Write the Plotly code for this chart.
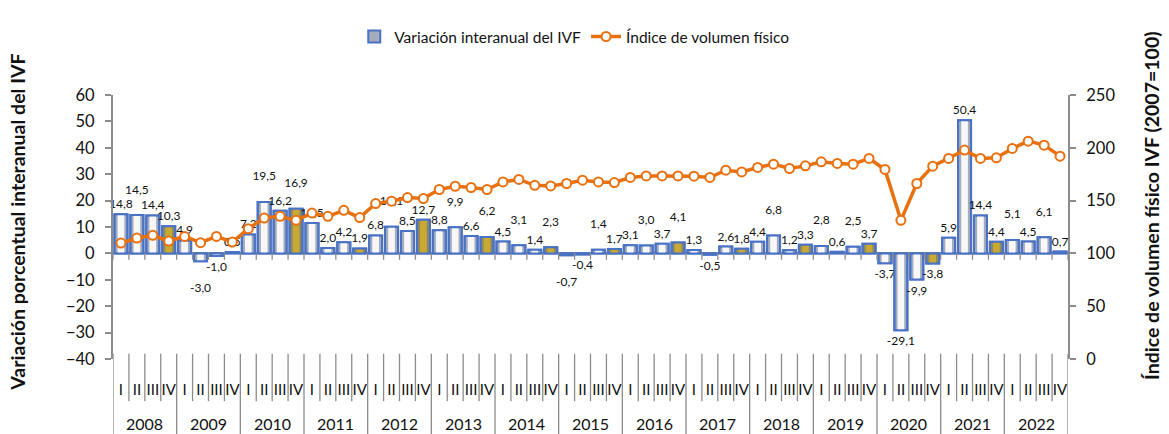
import plotly.graph_objects as go

years = [str(y) for y in range(2008, 2023)]
quarters = ["I", "II", "III", "IV"]

# Variación interanual del IVF (%), trimestral 2008-2022
ivf_var = [14.8, 14.5, 14.4, 10.3,
           4.9, -3.0, -1.0, 0.5,
           7.2, 19.5, 16.2, 16.9,
           11.5, 2.0, 4.2, 1.9,
           6.8, 10.1, 8.5, 12.7,
           8.8, 9.9, 6.6, 6.2,
           4.5, 3.1, 1.4, 2.3,
           -0.7, -0.4, 1.4, 1.7,
           3.1, 3.0, 3.7, 4.1,
           1.3, -0.5, 2.6, 1.8,
           4.4, 6.8, 1.2, 3.3,
           2.8, 0.6, 2.5, 3.7,
           -3.7, -29.1, -9.9, -3.8,
           5.9, 50.4, 14.4, 4.4,
           5.1, 4.5, 6.1, 0.7]

# Índice de volumen físico (2007=100)
ivf_index = [109.8, 114.5, 117.1, 111.7,
             116.1, 110.1, 116.1, 110.7,
             123.4, 133.5, 135.1, 131.3,
             138.2, 135.1, 140.8, 133.9,
             147.2, 149.4, 152.9, 151.9,
             160.5, 163.6, 162.4, 160.5,
             167.7, 170.0, 164.5, 163.9,
             166.2, 169.3, 167.7, 167.1,
             171.9, 173.4, 173.4, 173.4,
             173.1, 171.9, 178.8, 177.2,
             181.4, 184.5, 180.4, 182.9,
             186.7, 185.2, 184.5, 189.9,
             179.5, 131.3, 166.2, 182.6,
             189.9, 197.8, 189.9, 190.5,
             199.4, 206.3, 202.5, 192.1]

x_year = [y for y in years for _ in quarters]
x_q = [q for _ in years for q in quarters]
xkeys = [f"{y} {q}" for y, q in zip(x_year, x_q)]
n = len(ivf_var)

# label placement style: these data labels sit one line further from the bar
shifted_labels = {("2008", "II"), ("2010", "II"), ("2010", "IV"), ("2012", "II"),
                  ("2013", "II"), ("2013", "IV"), ("2014", "II"), ("2014", "IV"),
                  ("2015", "III"), ("2016", "II"), ("2016", "IV"), ("2018", "II"),
                  ("2019", "I"), ("2019", "III"), ("2022", "I"), ("2022", "III"),
                  ("2009", "II"), ("2015", "I")}

def fmt(v):
    return f"{v:.1f}".replace(".", ",")

labels = []
for v, y, q in zip(ivf_var, x_year, x_q):
    t = fmt(v)
    if (y, q) in shifted_labels:
        t = t + "<br> " if v >= 0 else " <br>" + t
    labels.append(t)

FONT = "Lato"
BLUE = "#4a72c4"
ORANGE = "#e8700f"
GRAY = "#8c8c8c"

outer_fill = ["#a3abbd" if q != "IV" else "#8f8a5c" for q in x_q]
inner_fill = ["#f7f7f7" if q != "IV" else "#c9a935" for q in x_q]

fig = go.Figure()
fig.add_trace(go.Bar(
    x=xkeys, y=ivf_var, width=0.82,
    marker=dict(color=outer_fill, line=dict(color=BLUE, width=2)),
    name="Variación interanual del IVF", showlegend=True, hoverinfo="skip",
))
fig.add_trace(go.Bar(
    x=xkeys, y=ivf_var, width=0.42,
    marker=dict(color=inner_fill, line=dict(width=0)),
    showlegend=False, hoverinfo="skip",
))
fig.add_trace(go.Bar(
    x=xkeys, y=ivf_var, width=0.82,
    marker=dict(color="rgba(0,0,0,0)", line=dict(color=BLUE, width=2)),
    text=labels, textposition="outside", cliponaxis=False, constraintext="none",
    textfont=dict(family=FONT, size=12, color="#111"),
    showlegend=False,
))
fig.add_trace(go.Scatter(
    x=xkeys, y=ivf_index, yaxis="y2", mode="lines+markers",
    line=dict(color=ORANGE, width=3.5),
    marker=dict(symbol="circle", size=9, color="white",
                line=dict(color=ORANGE, width=2)),
    name="Índice de volumen físico",
))

# axis decorations: separators below the plot and ticks on the zero line
shapes = []
for k in range(n + 1):
    pos = k - 0.5
    is_year = (k % 4 == 0)
    shapes.append(dict(type="line", xref="x", yref="paper", x0=pos, x1=pos,
                       y0=0.02, y1=(-0.29 if is_year else -0.16),
                       line=dict(color=GRAY, width=1.3)))
    shapes.append(dict(type="line", xref="x", yref="y", x0=pos, x1=pos,
                       y0=0, y1=-2.4, line=dict(color=GRAY, width=1.3)))

annotations = [
    dict(text=yr, xref="x", yref="paper", x=4 * i + 1.5, y=-0.245,
         xanchor="center", yanchor="middle", showarrow=False,
         font=dict(family=FONT, size=16, color="#111"))
    for i, yr in enumerate(years)
]
annotations += [
    dict(text="<b>Variación porcentual interanual del IVF</b>", textangle=-90,
         xref="paper", yref="paper", x=-0.0995, y=0.52, xanchor="center", yanchor="middle",
         showarrow=False, font=dict(family=FONT, size=19.5, color="#111")),
    dict(text="<b>Índice de volumen físico IVF (2007=100)</b>", textangle=-90,
         xref="paper", yref="paper", x=1.088, y=0.58, xanchor="center", yanchor="middle",
         showarrow=False, font=dict(family=FONT, size=19.5, color="#111")),
]

fig.update_layout(
    width=1169, height=434,
    margin=dict(l=113, r=101, t=95, b=75, autoexpand=False),
    paper_bgcolor="white", plot_bgcolor="white",
    barmode="overlay",
    font=dict(family=FONT, color="#222"),
    showlegend=True,
    legend=dict(orientation="h", x=0.483, xanchor="center", y=1.22, yanchor="middle",
                font=dict(family=FONT, size=15.5, color="#111"),
                traceorder="normal"),
    shapes=shapes,
    annotations=annotations,
    xaxis=dict(
        type="category", range=[-0.5, n - 0.5], automargin=False,
        tickvals=xkeys, ticktext=x_q, tickangle=0,
        showgrid=False, showline=False, ticks="", zeroline=False,
        tickfont=dict(family=FONT, size=15, color="#111"),
        ticklabelstandoff=20,
    ),
    yaxis=dict(
        range=[-40, 60], tickvals=list(range(-40, 61, 10)), automargin=False,
        showgrid=False, zeroline=True, zerolinecolor=GRAY, zerolinewidth=1.5,
        showline=True, linecolor=GRAY, linewidth=2,
        ticks="outside", ticklen=6, tickcolor=GRAY, tickwidth=1.5,
        tickfont=dict(family=FONT, size=16.5, color="#111"),
        ticklabelstandoff=7,
    ),
    yaxis2=dict(
        range=[0, 250], tickvals=list(range(0, 251, 50)), automargin=False,
        overlaying="y", side="right", anchor="x",
        showgrid=False, zeroline=False, showline=True,
        linecolor=GRAY, linewidth=2,
        ticks="outside", ticklen=6, tickcolor=GRAY, tickwidth=1.5,
        tickfont=dict(family=FONT, size=16.5, color="#111"),
        ticklabelstandoff=7,
    ),
)

fig.write_html("out.html", config={"displayModeBar": False},
               post_script="document.body.style.margin='0';")
